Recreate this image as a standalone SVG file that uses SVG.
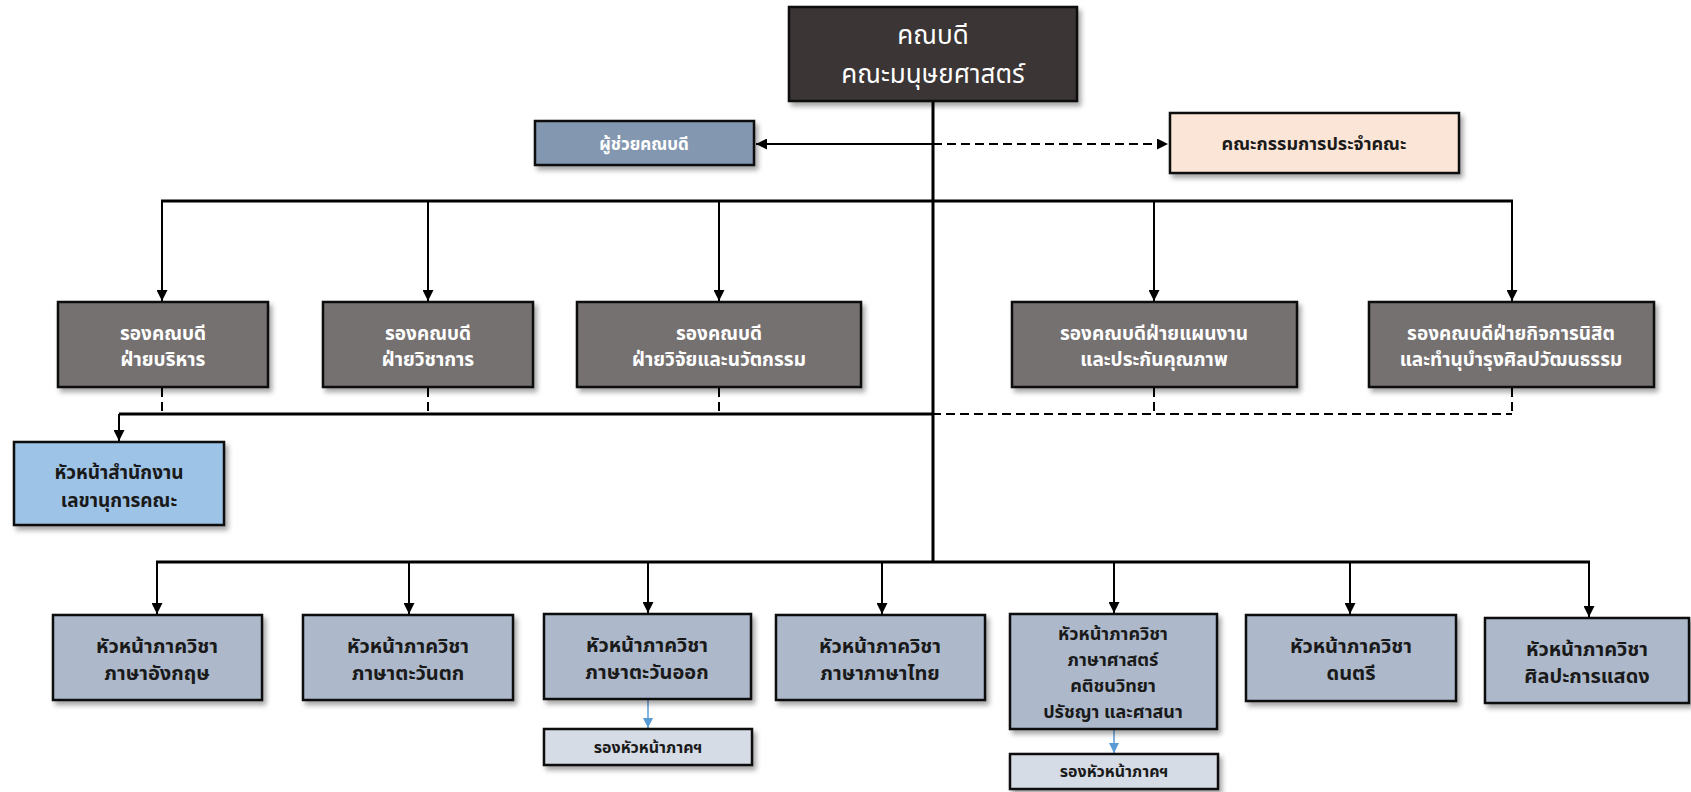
<svg xmlns="http://www.w3.org/2000/svg" width="1691" height="792" viewBox="0 0 1691 792">
<style>
  text { font-family: "Noto Sans Thai", "Noto Sans", "DejaVu Sans", sans-serif; text-anchor: middle; font-weight: bold; }
  .box { stroke: #111; stroke-width: 2.5; filter: url(#sh); }
  .dean { fill: #3a3434; }
  .asst { fill: #8497b0; }
  .comm { fill: #fbe5d6; }
  .vd { fill: #767171; }
  .office { fill: #9dc3e6; }
  .dept { fill: #adb9ca; }
  .sub { fill: #d6dce5; }
  .tw { fill: #ffffff; }
  .td { fill: #1a1a1a; }
  .tdean { font-size: 26px; font-weight: normal; }
  .tvd { font-size: 19px; }
  .tdp { font-size: 20px; }
  .tdp4 { font-size: 18px; }
  .toff { font-size: 19px; }
  .tas { font-size: 17px; }
  .tcm { font-size: 18px; }
  .tsub { font-size: 16px; }
  .ln { stroke: #000; fill: none; }
  .trunk { stroke-width: 3; }
  .br { stroke-width: 2; }
  .dash { stroke-width: 2; stroke-dasharray: 9 5; }
  .blue { stroke: #5b9bd5; stroke-width: 1.5; fill: none; }
</style>
<defs>
  <filter id="sh" x="-10%" y="-10%" width="130%" height="140%">
    <feDropShadow dx="3" dy="4" stdDeviation="2.5" flood-color="#000" flood-opacity="0.35"/>
  </filter>
  <marker id="ah" viewBox="0 0 10 10" refX="10" refY="5" markerWidth="11" markerHeight="11" markerUnits="userSpaceOnUse" orient="auto">
    <path d="M0,0 L10,5 L0,10 z" fill="#000"/>
  </marker>
  <marker id="ahb" viewBox="0 0 10 10" refX="10" refY="5" markerWidth="10" markerHeight="10" markerUnits="userSpaceOnUse" orient="auto">
    <path d="M0,0 L10,5 L0,10 z" fill="#5b9bd5"/>
  </marker>
</defs>

<g id="connectors">
  <line class="ln trunk" x1="933" y1="101" x2="933" y2="562"/>
  <line class="ln br" x1="933" y1="144" x2="756" y2="144" marker-end="url(#ah)"/>
  <line class="ln dash" x1="933" y1="144" x2="1168" y2="144" marker-end="url(#ah)"/>
  <line class="ln trunk" x1="161" y1="201" x2="1513" y2="201"/>
  <line class="ln br" x1="162" y1="201" x2="162" y2="301" marker-end="url(#ah)"/>
  <line class="ln br" x1="428" y1="201" x2="428" y2="301" marker-end="url(#ah)"/>
  <line class="ln br" x1="719" y1="201" x2="719" y2="301" marker-end="url(#ah)"/>
  <line class="ln br" x1="1154" y1="201" x2="1154" y2="301" marker-end="url(#ah)"/>
  <line class="ln br" x1="1512" y1="201" x2="1512" y2="301" marker-end="url(#ah)"/>
  <path class="ln dash" d="M162,388 V414 M428,388 V414 M719,388 V414 M1154,388 V414 M1512,388 V414 M162,414 H1512"/>
  <path class="ln trunk" d="M933,414 H119"/>
  <line class="ln br" x1="119" y1="414" x2="119" y2="441" marker-end="url(#ah)"/>
  <line class="ln trunk" x1="156" y1="562" x2="1590" y2="562"/>
  <line class="ln br" x1="157" y1="562" x2="157" y2="614" marker-end="url(#ah)"/>
  <line class="ln br" x1="409" y1="562" x2="409" y2="614" marker-end="url(#ah)"/>
  <line class="ln br" x1="648" y1="562" x2="648" y2="613" marker-end="url(#ah)"/>
  <line class="ln br" x1="882" y1="562" x2="882" y2="614" marker-end="url(#ah)"/>
  <line class="ln br" x1="1114" y1="562" x2="1114" y2="613" marker-end="url(#ah)"/>
  <line class="ln br" x1="1350" y1="562" x2="1350" y2="614" marker-end="url(#ah)"/>
  <line class="ln br" x1="1589" y1="562" x2="1589" y2="617" marker-end="url(#ah)"/>
  <line class="blue" x1="648" y1="700" x2="648" y2="728" marker-end="url(#ahb)"/>
  <line class="blue" x1="1114" y1="729" x2="1114" y2="753" marker-end="url(#ahb)"/>
</g>

<g id="dean">
  <rect class="box dean" x="789" y="7" width="288" height="94"/>
  <text class="tw tdean" x="933" y="44">คณบดี</text>
  <text class="tw tdean" x="933" y="83">คณะมนุษยศาสตร์</text>
</g>
<g id="assistant">
  <rect class="box asst" x="535" y="121" width="219" height="44"/>
  <text class="tw tas" x="644" y="150">ผู้ช่วยคณบดี</text>
</g>
<g id="committee">
  <rect class="box comm" x="1170" y="113" width="289" height="60"/>
  <text class="td tcm" x="1314" y="150">คณะกรรมการประจำคณะ</text>
</g>

<g id="vd1">
  <rect class="box vd" x="58" y="302" width="210" height="85"/>
  <text class="tw tvd" x="163" y="340">รองคณบดี</text>
  <text class="tw tvd" x="163" y="366">ฝ่ายบริหาร</text>
</g>
<g id="vd2">
  <rect class="box vd" x="323" y="302" width="210" height="85"/>
  <text class="tw tvd" x="428" y="340">รองคณบดี</text>
  <text class="tw tvd" x="428" y="366">ฝ่ายวิชาการ</text>
</g>
<g id="vd3">
  <rect class="box vd" x="577" y="302" width="284" height="85"/>
  <text class="tw tvd" x="719" y="340">รองคณบดี</text>
  <text class="tw tvd" x="719" y="366">ฝ่ายวิจัยและนวัตกรรม</text>
</g>
<g id="vd4">
  <rect class="box vd" x="1012" y="302" width="285" height="85"/>
  <text class="tw tvd" x="1154" y="340">รองคณบดีฝ่ายแผนงาน</text>
  <text class="tw tvd" x="1154" y="366">และประกันคุณภาพ</text>
</g>
<g id="vd5">
  <rect class="box vd" x="1369" y="302" width="285" height="85"/>
  <text class="tw tvd" x="1511" y="340">รองคณบดีฝ่ายกิจการนิสิต</text>
  <text class="tw tvd" x="1511" y="366">และทำนุบำรุงศิลปวัฒนธรรม</text>
</g>

<g id="office">
  <rect class="box office" x="14" y="442" width="210" height="83"/>
  <text class="td toff" x="119" y="479">หัวหน้าสำนักงาน</text>
  <text class="td toff" x="119" y="507">เลขานุการคณะ</text>
</g>

<g id="dept1">
  <rect class="box dept" x="53" y="615" width="209" height="85"/>
  <text class="td tdp" x="157" y="653">หัวหน้าภาควิชา</text>
  <text class="td tdp" x="157" y="680">ภาษาอังกฤษ</text>
</g>
<g id="dept2">
  <rect class="box dept" x="303" y="615" width="210" height="85"/>
  <text class="td tdp" x="408" y="653">หัวหน้าภาควิชา</text>
  <text class="td tdp" x="408" y="680">ภาษาตะวันตก</text>
</g>
<g id="dept3">
  <rect class="box dept" x="544" y="614" width="207" height="85"/>
  <text class="td tdp" x="647" y="652">หัวหน้าภาควิชา</text>
  <text class="td tdp" x="647" y="679">ภาษาตะวันออก</text>
</g>
<g id="dept4">
  <rect class="box dept" x="776" y="615" width="209" height="85"/>
  <text class="td tdp" x="880" y="653">หัวหน้าภาควิชา</text>
  <text class="td tdp" x="880" y="680">ภาษาภาษาไทย</text>
</g>
<g id="dept5">
  <rect class="box dept" x="1010" y="614" width="207" height="115"/>
  <text class="td tdp4" x="1113" y="640">หัวหน้าภาควิชา</text>
  <text class="td tdp4" x="1113" y="666">ภาษาศาสตร์</text>
  <text class="td tdp4" x="1113" y="692">คติชนวิทยา</text>
  <text class="td tdp4" x="1113" y="718">ปรัชญา และศาสนา</text>
</g>
<g id="dept6">
  <rect class="box dept" x="1246" y="615" width="210" height="86"/>
  <text class="td tdp" x="1351" y="653">หัวหน้าภาควิชา</text>
  <text class="td tdp" x="1351" y="680">ดนตรี</text>
</g>
<g id="dept7">
  <rect class="box dept" x="1485" y="618" width="204" height="85"/>
  <text class="td tdp" x="1587" y="656">หัวหน้าภาควิชา</text>
  <text class="td tdp" x="1587" y="683">ศิลปะการแสดง</text>
</g>

<g id="sub1">
  <rect class="box sub" x="544" y="729" width="208" height="36"/>
  <text class="td tsub" x="648" y="753">รองหัวหน้าภาคฯ</text>
</g>
<g id="sub2">
  <rect class="box sub" x="1010" y="754" width="208" height="35"/>
  <text class="td tsub" x="1114" y="777">รองหัวหน้าภาคฯ</text>
</g>
</svg>
